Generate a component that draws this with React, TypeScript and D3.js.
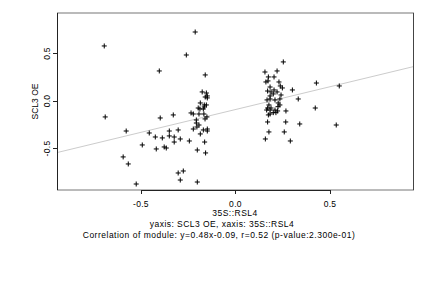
import React, { useEffect, useRef } from 'react';
import * as d3 from 'd3';

// 35S::RSL4 (x) vs SCL3 OE (y)
const xVals = [
  -0.694, -0.689, -0.403, -0.26, -0.213, -0.16, -0.398, -0.329, -0.578, -0.456,
  -0.424, -0.387, -0.35, -0.35, -0.324, -0.303, -0.292, -0.324, -0.244, -0.493,
  -0.419, -0.377, -0.366, -0.594, -0.567, -0.525, -0.303, -0.276, -0.292, -0.202,
  -0.202, -0.158, -0.163, -0.186, -0.17, -0.149, -0.149, -0.223, -0.204, -0.193,
  -0.207, -0.207, -0.235, -0.223, -0.197, -0.188, -0.165, -0.154, -0.193, -0.167,
  -0.161, -0.151, -0.176, -0.154, -0.149, -0.16, -0.149, -0.186, -0.165, -0.17,
  0.253, 0.156, 0.22, 0.174, 0.204, 0.161, 0.172, 0.23, 0.183, 0.237,
  0.248, 0.17, 0.188, 0.204, 0.22, 0.301, 0.183, 0.2, 0.241, 0.332,
  0.167, 0.183, 0.209, 0.235, 0.177, 0.226, 0.235, 0.17, 0.188, 0.209,
  0.223, 0.267, 0.165, 0.183, 0.174, 0.183, 0.17, 0.266, 0.34, 0.177,
  0.258, 0.158, 0.29, 0.428, 0.549, 0.422, 0.533, 0.2, 0.214, 0.225,
];
const yVals = [
  0.579, -0.168, 0.316, 0.484, 0.726, 0.274, -0.179, -0.147, -0.316, -0.337,
  -0.379, -0.389, -0.316, -0.368, -0.379, -0.305, -0.4, -0.432, -0.421, -0.463,
  -0.505, -0.484, -0.495, -0.589, -0.663, -0.874, -0.758, -0.737, -0.832, -0.853,
  -0.516, -0.547, -0.432, -0.347, -0.305, -0.295, -0.316, -0.295, -0.274, -0.253,
  -0.232, -0.2, -0.126, -0.137, -0.074, -0.084, -0.063, -0.042, -0.137, -0.137,
  -0.189, -0.168, 0.095, 0.084, 0.053, 0.042, 0.032, -0.021, -0.042, -0.084,
  0.411, 0.305, 0.316, 0.253, 0.253, 0.2, 0.211, 0.2, 0.147, 0.158,
  0.137, 0.105, 0.095, 0.116, 0.095, 0.116, 0.053, 0.074, 0.063, 0.021,
  0.011, 0.021, 0.011, 0.021, -0.042, -0.021, -0.042, -0.074, -0.074, -0.095,
  -0.105, -0.105, -0.095, -0.095, -0.147, -0.137, -0.221, -0.221, -0.242, -0.326,
  -0.326, -0.4, -0.421, 0.189, 0.158, -0.074, -0.253, -0.123, -0.123, -0.06,
];

const xTicks = [-0.5, 0, 0.5];
const yTicks = [-0.5, 0, 0.5];
const slope = 0.48;
const intercept = -0.09;

const xLabel = '35S::RSL4';
const yLabel = 'SCL3 OE';
const subtitle = 'yaxis: SCL3 OE, xaxis: 35S::RSL4';
const caption = 'Correlation of module: y=0.48x-0.09, r=0.52 (p-value:2.300e-01)';

const App = () => {
  const svgRef = useRef(null);

  useEffect(() => {
    const svg = d3.select(svgRef.current);
    svg.selectAll('*').remove();

    const W = 432, H = 288;
    const left = 57, right = 413, top = 13, bottom = 190;
    const font = 'Liberation Sans, Arial, Helvetica, sans-serif';

    const x = d3.scaleLinear().domain([-0.944, 0.939]).range([left, right]);
    const y = d3.scaleLinear().domain([-0.937, 0.926]).range([bottom, top]);

    svg.attr('width', W).attr('height', H);
    svg.append('rect').attr('width', W).attr('height', H).attr('fill', 'white');

    // regression line, clipped to the plot box
    svg.append('clipPath').attr('id', 'plotClip')
      .append('rect').attr('x', left).attr('y', top)
      .attr('width', right - left).attr('height', bottom - top);

    const dom = x.domain();
    svg.append('line')
      .attr('clip-path', 'url(#plotClip)')
      .attr('x1', x(dom[0])).attr('y1', y(slope * dom[0] + intercept))
      .attr('x2', x(dom[1])).attr('y2', y(slope * dom[1] + intercept))
      .attr('stroke', '#cccccc').attr('stroke-width', 1);

    // box
    svg.append('rect')
      .attr('x', left + 0.5).attr('y', top)
      .attr('width', right - left).attr('height', bottom - top)
      .attr('fill', 'none').attr('stroke', '#777').attr('stroke-width', 1);
    svg.append('line')
      .attr('x1', left + 0.5).attr('x2', left + 0.5).attr('y1', top).attr('y2', bottom)
      .attr('stroke', '#222');
    svg.append('line')
      .attr('x1', right + 0.5).attr('x2', right + 0.5).attr('y1', top).attr('y2', bottom)
      .attr('stroke', '#444');

    // x axis
    const xAxis = svg.append('g');
    xAxis.append('line')
      .attr('x1', x(xTicks[0])).attr('x2', x(xTicks[xTicks.length - 1]))
      .attr('y1', bottom + 0.5).attr('y2', bottom + 0.5)
      .attr('stroke', '#222');
    xTicks.forEach(t => {
      xAxis.append('line')
        .attr('x1', Math.round(x(t)) + 0.5).attr('x2', Math.round(x(t)) + 0.5)
        .attr('y1', bottom).attr('y2', bottom + 4)
        .attr('stroke', '#222');
      xAxis.append('text')
        .attr('x', x(t)).attr('y', 207)
        .attr('text-anchor', 'middle')
        .attr('font-family', font).attr('font-size', 8.5)
        .attr('letter-spacing', 0.3)
        .text(d3.format('.1f')(t).replace('−', '-'));
    });

    // y axis
    const yAxis = svg.append('g');
    yTicks.forEach(t => {
      yAxis.append('line')
        .attr('x1', left - 4).attr('x2', left)
        .attr('y1', Math.round(y(t)) + 0.5).attr('y2', Math.round(y(t)) + 0.5)
        .attr('stroke', '#222');
      yAxis.append('text')
        .attr('transform', `translate(50,${y(t)}) rotate(-90)`)
        .attr('text-anchor', 'middle')
        .attr('font-family', font).attr('font-size', 8.5)
        .attr('letter-spacing', 0.3)
        .text(d3.format('.1f')(t).replace('−', '-'));
    });

    // points
    const pts = xVals.map((v, i) => [x(v), y(yVals[i])]);
    svg.append('g').selectAll('path').data(pts).enter().append('path')
      .attr('d', d => `M${d[0] - 2.5},${d[1]}H${d[0] + 2.5}M${d[0]},${d[1] - 2.5}V${d[1] + 2.5}`)
      .attr('stroke', 'black').attr('stroke-width', 1).attr('fill', 'none');

    // labels
    svg.append('text')
      .attr('transform', `translate(38,${(top + bottom) / 2}) rotate(-90)`)
      .attr('text-anchor', 'middle')
      .attr('font-family', font).attr('font-size', 8.5)
      .text(yLabel);
    svg.append('text')
      .attr('x', (left + right) / 2).attr('y', 216)
      .attr('text-anchor', 'middle')
      .attr('font-family', font).attr('font-size', 8.5)
      .attr('letter-spacing', 0.5)
      .text(xLabel);
    svg.append('text')
      .attr('x', 222).attr('y', 226.5)
      .attr('text-anchor', 'middle')
      .attr('font-family', font).attr('font-size', 8.5)
      .attr('letter-spacing', 0.45)
      .text(subtitle);
    svg.append('text')
      .attr('x', 219).attr('y', 237.5)
      .attr('text-anchor', 'middle')
      .attr('font-family', font).attr('font-size', 8.5)
      .attr('letter-spacing', 0.5)
      .text(caption);
  }, []);

  return <svg ref={svgRef} style={{ position: 'absolute', left: 0, top: 0 }}></svg>;
};

export default App;
